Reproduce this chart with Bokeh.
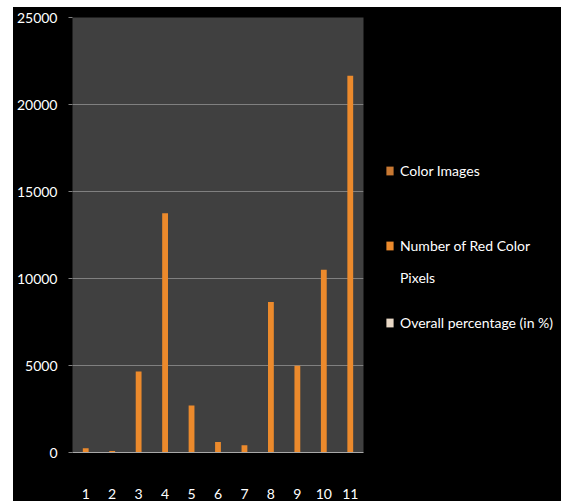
from bokeh.plotting import figure
from bokeh.models import (Legend, LegendItem, FactorRange, Range1d, FixedTicker, Spacer)
from bokeh.layouts import column, row
from bokeh.embed import file_html
from bokeh.resources import INLINE

# ---- data ----
images = ["1", "2", "3", "4", "5", "6", "7", "8", "9", "10", "11"]
red_pixels = [250, 80, 4650, 13750, 2700, 600, 420, 8650, 4980, 10500, 21650]
y_ticks = [0, 5000, 10000, 15000, 20000, 25000]
series_names = ["Color Images", "Number of Red Color", "Pixels", "Overall percentage (in %)"]
series_colors = ["#C87832", "#EC8A2C", "#E8D8C6"]

FONT = "Lato"

# ---- main chart ----
p = figure(x_range=FactorRange(*images), y_range=Range1d(0, 25000),
           width=367, height=494, output_backend="svg", toolbar_location=None,
           min_border_left=57, min_border_right=17, min_border_top=10, min_border_bottom=48,
           background_fill_color="#404040", border_fill_color="black",
           outline_line_color=None, styles={"background-color": "black"})

p.vbar(x=images, top=red_pixels, width=0.22, fill_color=series_colors[1], line_color=None)

p.yaxis.ticker = FixedTicker(ticks=y_ticks)
p.yaxis.axis_line_color = None
p.yaxis.major_tick_out = 4
p.yaxis.major_tick_in = 0
p.yaxis.major_tick_line_color = "#808080"
p.yaxis.minor_tick_line_color = None
p.yaxis.major_label_standoff = 11
p.yaxis.major_label_text_color = "white"
p.yaxis.major_label_text_font = FONT
p.yaxis.major_label_text_font_size = "14px"

p.xaxis.axis_line_color = "#a8a8a8"
p.xaxis.major_tick_line_color = None
p.xaxis.major_label_standoff = 30
p.xaxis.major_label_text_color = "white"
p.xaxis.major_label_text_font = FONT
p.xaxis.major_label_text_font_size = "14px"

p.xgrid.grid_line_color = None
p.ygrid.grid_line_color = "#808080"

# ---- legend panel (black area on the right) ----
q = figure(width=181, height=494, x_range=Range1d(0, 1), y_range=Range1d(0, 1),
           x_axis_type=None, y_axis_type=None, output_backend="svg", toolbar_location=None,
           min_border=0, background_fill_color="black", border_fill_color="black",
           outline_line_color=None, styles={"background-color": "black"})
q.xgrid.visible = False
q.ygrid.visible = False

swatches = [q.vbar(x=[0.5], top=[0], width=0.1, fill_color=c, line_color=None)
            for c in series_colors]
gap = q.vbar(x=[0.5], top=[0], width=0.1, fill_alpha=0, line_alpha=0)

legend_style = dict(border_line_color=None, background_fill_alpha=0, padding=0, margin=0,
                    label_text_color="white", label_text_font=FONT,
                    label_text_font_size="14px", glyph_width=9, glyph_height=11,
                    label_standoff=6, label_height=21)

q.add_layout(Legend(items=[LegendItem(label=series_names[0], renderers=[swatches[0]])],
                    location=(5, 271.5), **legend_style), "center")
q.add_layout(Legend(items=[LegendItem(label=series_names[1], renderers=[swatches[1]]),
                           LegendItem(label=series_names[2], renderers=[gap])],
                    location=(5, 164.5), spacing=11, **legend_style), "center")
q.add_layout(Legend(items=[LegendItem(label=series_names[3], renderers=[swatches[2]])],
                    location=(5, 119.5), **legend_style), "center")

layout = column(Spacer(height=7), row(Spacer(width=13), p, q))
open("out.html", "w").write(file_html(layout, INLINE))
